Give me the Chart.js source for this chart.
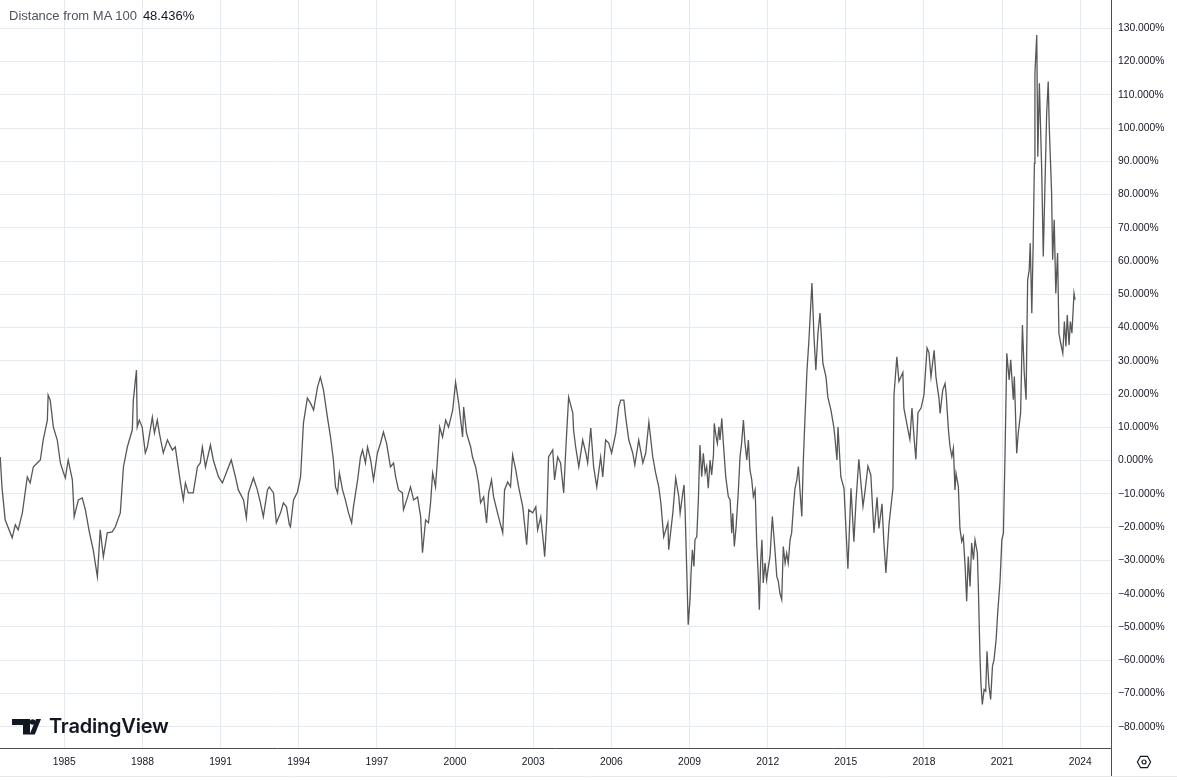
<!DOCTYPE html>
<html>
<head>
<meta charset="utf-8">
<script src="https://cdn.jsdelivr.net/npm/chart.js@4.4.0/dist/chart.umd.min.js"></script>
<style>
  html, body { margin: 0; padding: 0; background: #ffffff; overflow: hidden; }
  #wrap { position: relative; width: 1177px; height: 780px; }
  #chart { position: absolute; left: 0; top: 0; }
  .legend { position: absolute; left: 9px; top: 8px; font: 13px "Liberation Sans", Arial, sans-serif; line-height: 16px; color: #50535e; white-space: nowrap; }
  .legend b { font-weight: normal; color: #131722; margin-left: 6px; }
  .logo { position: absolute; left: 12px; top: 716px; height: 24px; }
  .logo svg { position: absolute; left: 0; top: 3px; }
  .logo span { position: absolute; left: 37px; top: 0; font: 600 20px Inter, "Noto Sans", sans-serif; line-height: 21px; color: #131722; letter-spacing: -0.2px; white-space: nowrap; }
  .gear { position: absolute; left: 1136px; top: 754px; }
</style>
</head>
<body>
<div id="wrap">
  <canvas id="chart" width="1177" height="780"></canvas>
  <div class="legend">Distance from MA 100<b>48.436%</b></div>
  <div class="logo">
    <svg width="30" height="16" viewBox="0 0 30 16">
      <path d="M0 0 H18 V15.5 H11 V6 H0 Z" fill="#131722"/>
      <circle cx="20.6" cy="3" r="2.8" fill="#131722"/>
      <path d="M17.6 15.5 L24 0 H29 L22.8 15.5 Z" fill="#131722"/>
    </svg>
    <span>TradingView</span>
  </div>
  <svg class="gear" width="16" height="16" viewBox="0 0 16 16">
    <path d="M4.6 2.3 H11.4 L14.6 8 L11.4 13.7 H4.6 L1.4 8 Z" fill="none" stroke="#131722" stroke-width="1.2"/>
    <circle cx="8" cy="8" r="2" fill="none" stroke="#131722" stroke-width="1.2"/>
  </svg>
</div>
<script>
// distance from the 100 moving average (decimal year, percent)
var years = [
  1982.54,1982.61,1982.73,1983.00,1983.12,1983.23,1983.39,1983.58,1983.69,1983.81,1983.96,1984.08,1984.19,1984.35,1984.38,1984.46,1984.58,1984.73,1984.85,1984.96,
  1985.04,1985.15,1985.31,1985.38,1985.54,1985.69,1985.81,1985.96,1986.11,1986.27,1986.38,1986.50,1986.65,1986.84,1986.96,1987.15,1987.27,1987.42,1987.53,1987.61,1987.65,1987.77,1987.80,1987.88,1987.99,
  1988.11,1988.19,1988.38,1988.46,1988.57,1988.65,1988.80,1988.96,1989.15,1989.26,1989.46,1989.57,1989.65,1989.76,1989.95,1990.11,1990.22,1990.30,1990.42,1990.61,1990.72,1990.92,
  1991.07,1991.26,1991.41,1991.57,1991.68,1991.88,1991.99,1992.07,1992.26,1992.41,1992.53,1992.64,1992.80,1992.87,1993.03,1993.14,1993.30,1993.41,1993.53,1993.64,1993.68,1993.80,1993.95,
  1994.07,1994.18,1994.33,1994.45,1994.57,1994.72,1994.83,1994.95,1995.10,1995.22,1995.33,1995.41,1995.49,1995.56,1995.68,1995.79,1995.91,1996.03,1996.10,1996.26,1996.37,1996.45,1996.56,1996.64,1996.76,1996.87,
  1997.02,1997.14,1997.25,1997.37,1997.52,1997.64,1997.72,1997.83,1997.98,1998.02,1998.18,1998.29,1998.41,1998.56,1998.68,1998.75,1998.87,1998.98,1999.06,1999.14,1999.25,1999.41,1999.52,1999.64,1999.75,1999.91,
  2000.02,2000.14,2000.29,2000.33,2000.44,2000.60,2000.67,2000.79,2000.90,2000.98,2001.10,2001.21,2001.29,2001.40,2001.48,2001.63,2001.83,2001.90,2002.02,2002.13,2002.21,2002.33,2002.44,2002.60,2002.75,2002.83,2002.98,
  2003.10,2003.17,2003.29,2003.40,2003.44,2003.52,2003.59,2003.75,2003.82,2003.94,2004.05,2004.17,2004.25,2004.36,2004.52,2004.55,2004.63,2004.75,2004.90,2005.02,2005.09,2005.21,2005.32,2005.44,2005.59,2005.67,2005.78,2005.90,
  2006.01,2006.17,2006.28,2006.36,2006.48,2006.55,2006.67,2006.82,2006.90,2007.05,2007.21,2007.32,2007.44,2007.59,2007.70,2007.82,2007.90,2008.01,2008.17,2008.20,2008.36,2008.47,2008.59,2008.64,2008.74,2008.79,2008.83,2008.89,2008.95,
  2009.02,2009.06,2009.11,2009.17,2009.21,2009.28,2009.34,2009.40,2009.47,2009.53,2009.60,2009.66,2009.72,2009.79,2009.85,2009.92,2009.95,2010.02,2010.07,2010.13,2010.17,2010.24,2010.30,2010.39,2010.49,2010.56,2010.62,2010.66,2010.72,2010.79,2010.87,2010.94,
  2011.00,2011.07,2011.13,2011.20,2011.26,2011.32,2011.39,2011.45,2011.52,2011.58,2011.64,2011.68,2011.73,2011.78,2011.83,2011.90,2011.96,2012.03,2012.09,2012.18,2012.28,2012.35,2012.41,2012.47,2012.54,2012.60,2012.67,2012.73,2012.79,2012.86,2012.92,2012.99,
  2013.05,2013.12,2013.18,2013.24,2013.31,2013.37,2013.43,2013.51,2013.58,2013.70,2013.78,2013.85,2013.93,2014.01,2014.12,2014.24,2014.31,2014.43,2014.54,2014.58,2014.66,2014.70,2014.81,2014.93,
  2015.08,2015.20,2015.31,2015.39,2015.50,2015.66,2015.73,2015.85,2015.96,2016.08,2016.20,2016.27,2016.39,2016.46,2016.54,2016.66,2016.81,2016.85,2016.96,2017.04,2017.19,2017.23,2017.39,2017.46,2017.54,2017.62,2017.69,2017.77,2017.89,
  2018.00,2018.12,2018.19,2018.27,2018.39,2018.46,2018.58,2018.62,2018.72,2018.81,2018.85,2018.94,2019.00,2019.07,2019.13,2019.19,2019.23,2019.32,2019.38,2019.45,2019.51,2019.58,2019.64,2019.70,2019.77,2019.83,2019.90,2019.96,
  2020.05,2020.09,2020.15,2020.19,2020.24,2020.31,2020.37,2020.42,2020.49,2020.56,2020.63,2020.69,2020.77,2020.83,2020.92,2020.99,
  2021.05,2021.11,2021.18,2021.27,2021.33,2021.43,2021.47,2021.56,2021.62,2021.71,2021.78,2021.85,2021.92,2021.98,2022.04,2022.08,2022.14,2022.19,2022.24,2022.26,2022.33,2022.37,2022.43,2022.52,2022.58,2022.62,2022.71,2022.77,2022.81,2022.90,2022.94,
  2023.00,2023.06,2023.13,2023.18,2023.25,2023.33,2023.39,2023.45,2023.50,2023.57,2023.62,2023.68,2023.76,2023.80
];
var distance = [
  1.1,-8.2,-17.8,-23.2,-19.3,-20.8,-15.7,-4.9,-6.7,-1.9,-0.7,0.2,6.2,12.2,19.7,18.2,10.1,6.2,-0.7,-3.4,
  -5.2,0.2,-5.8,-16.9,-11.8,-11.2,-14.8,-21.4,-26.8,-34.9,-20.8,-28.9,-21.7,-21.4,-19.9,-15.7,-1.9,4.1,7.1,9.2,18.2,27.2,10.1,12.2,10.1,
  2.3,4.1,13.1,8.3,12.2,8.3,2.3,6.2,3.2,4.1,-6.7,-11.8,-6.7,-9.7,-9.7,-1.9,-0.7,4.1,-1.9,4.7,0.2,-4.9,
  -6.7,-2.8,0.2,-4.9,-8.8,-11.8,-17.2,-9.7,-5.2,-8.8,-12.7,-16.9,-8.8,-7.9,-9.7,-18.7,-15.7,-12.7,-13.9,-19.3,-19.9,-11.8,-9.4,
  -4.9,11.3,18.8,17.3,15.2,22.1,25.1,21.2,13.1,7.1,0.2,-7.9,-9.7,-3.7,-8.8,-11.8,-15.7,-18.7,-13.9,-5.8,1.1,3.2,-0.7,4.1,0.2,-5.8,
  2.3,5.3,8.6,5.3,-1.9,-0.7,-4.9,-8.8,-9.7,-14.8,-10.9,-7.9,-11.8,-10.9,-16.9,-27.7,-17.8,-18.7,-12.7,-3.7,-7.9,10.1,7.1,12.2,10.1,15.2,
  23.6,17.3,7.1,16.1,8.3,4.1,1.1,-1.9,-6.7,-12.7,-10.9,-18.7,-9.7,-5.8,-10.9,-15.7,-21.7,-8.8,-6.4,-7.9,1.7,-2.8,-7.9,-13.9,-25.3,-14.8,-15.7,
  -13.9,-20.8,-16.9,-25.3,-28.9,-17.8,1.1,3.2,-5.8,1.1,-0.7,-9.7,3.2,19.1,14.3,9.2,4.1,-1.9,6.2,2.3,-0.7,9.8,-1.9,-7.9,1.1,-4.9,6.2,5.3,
  2.3,8.3,16.1,18.2,18.2,13.1,6.2,2.3,-1.3,6.2,-0.7,2.3,11.6,1.1,-3.7,-7.9,-12.7,-22.9,-18.7,-26.8,-15.7,-5.2,-10.9,-15.8,-9.8,-7.3,-14.8,-31.8,-49.3,
  -41.8,-33.8,-26.8,-31.8,-23.8,-22.8,-11.8,4.7,-4.8,2.2,-3.8,-1.8,-8.3,0.2,-4.3,1.7,11.2,7.2,5.2,10.2,6.2,12.7,5.2,-4.8,-10.8,-11.8,-21.8,-15.8,-25.8,-19.8,-9.8,1.2,
  5.2,12.2,5.2,0.2,6.2,-2.8,-5.8,-10.8,-8.8,-24.8,-34.8,-44.8,-30.8,-23.8,-36.8,-30.8,-35.8,-31.8,-28.8,-16.8,-26.8,-34.8,-36.3,-39.8,-41.8,-25.8,-30.8,-27.8,-30.8,-23.8,-21.8,-13.8,
  -8.3,-5.8,-1.8,-8.8,-16.8,0.2,12.2,27.2,35.7,53.4,37.1,27.2,38.3,44.4,29.3,25.1,19.1,15.2,10.1,7.1,0.2,10.1,-4.9,-8.3,
  -32.5,-8.3,-24.4,-12.4,0.4,-13.7,-9.7,-1.6,-4.3,-21.7,-11.0,-20.4,-13.0,-24.4,-33.8,-19.0,-8.3,19.8,31.2,23.8,26.5,15.8,9.1,6.4,15.8,7.0,0.4,14.4,15.8,
  19.8,33.9,32.5,25.2,33.2,25.2,18.5,14.2,21.2,23.2,20.2,9.2,4.2,1.2,3.7,-8.8,-3.8,-7.8,-20.3,-24.3,-22.8,-31.8,-42.3,-28.8,-37.8,-24.8,-29.8,-23.8,
  -27.8,-38.8,-58.8,-67.3,-73.3,-68.8,-69.3,-57.3,-67.3,-71.8,-61.8,-59.8,-53.8,-45.8,-36.3,-23.8,
  -21.8,1.0,32.3,24.3,30.3,18.3,25.3,2.2,8.3,14.3,40.8,26.3,18.3,54.3,57.3,65.4,44.3,64.4,89.4,116.5,128.0,91.4,113.5,87.4,61.4,74.4,104.4,114.0,100.4,80.4,60.4,
  72.4,50.3,62.4,38.3,35.3,32.3,41.8,34.3,43.8,34.8,41.8,38.3,50.3,48.4
];

var yearTicks = [1985, 1988, 1991, 1994, 1997, 2000, 2003, 2006, 2009, 2012, 2015, 2018, 2021, 2024];
var pctTicks = [-80, -70, -60, -50, -40, -30, -20, -10, 0, 10, 20, 30, 40, 50, 60, 70, 80, 90, 100, 110, 120, 130];

var axisFont = { family: '"Liberation Sans", Arial, sans-serif', size: 10.3 };

// axis lines drawn by hand so they run past the plot like the original
var frameLines = {
  id: 'frameLines',
  afterDraw: function(chart) {
    var ctx = chart.ctx, a = chart.chartArea;
    ctx.save();
    ctx.strokeStyle = '#e6e8ec';
    ctx.lineWidth = 1;
    ctx.beginPath();
    ctx.moveTo(0, 776.5); ctx.lineTo(chart.width, 776.5);
    ctx.stroke();
    ctx.strokeStyle = '#4b4e57';
    ctx.beginPath();
    ctx.moveTo(0, Math.round(a.bottom) + 0.5); ctx.lineTo(Math.round(a.right), Math.round(a.bottom) + 0.5);
    ctx.moveTo(Math.round(a.right) + 0.5, 0); ctx.lineTo(Math.round(a.right) + 0.5, 776);
    ctx.stroke();
    ctx.restore();
  }
};

var points = years.map(function(y, i) { return { x: y, y: distance[i] }; });

new Chart(document.getElementById('chart'), {
  type: 'line',
  data: {
    datasets: [{
      data: points,
      borderColor: '#575757',
      borderWidth: 1.3,
      pointRadius: 0,
      tension: 0,
      fill: false
    }]
  },
  options: {
    responsive: false,
    animation: false,
    devicePixelRatio: 1,
    layout: { padding: 0 },
    plugins: { legend: { display: false }, tooltip: { enabled: false } },
    scales: {
      x: {
        type: 'linear',
        min: 1982.532,
        max: 2025.18,
        border: { display: false },
        grid: { color: '#e1ebf1', drawTicks: false },
        afterBuildTicks: function(s) { s.ticks = yearTicks.map(function(v) { return { value: v }; }); },
        afterFit: function(s) { s.height = 32; s.paddingLeft = 0; s.paddingRight = 0; },
        ticks: {
          autoSkip: false,
          maxRotation: 0,
          padding: 8,
          color: '#131722',
          font: axisFont,
          callback: function(v) { return String(v); }
        }
      },
      y: {
        position: 'right',
        min: -86.4,
        max: 138.51,
        border: { display: false },
        grid: { color: '#e1ebf1', drawTicks: false },
        afterBuildTicks: function(s) { s.ticks = pctTicks.map(function(v) { return { value: v }; }); },
        afterFit: function(s) { s.width = 66; s.paddingTop = 0; s.paddingBottom = 0; },
        ticks: {
          autoSkip: false,
          padding: 7,
          color: '#131722',
          font: axisFont,
          callback: function(v) { return (v < 0 ? '\u2212' : '') + Math.abs(v).toFixed(3) + '%'; }
        }
      }
    }
  },
  plugins: [frameLines]
});
</script>
</body>
</html>
